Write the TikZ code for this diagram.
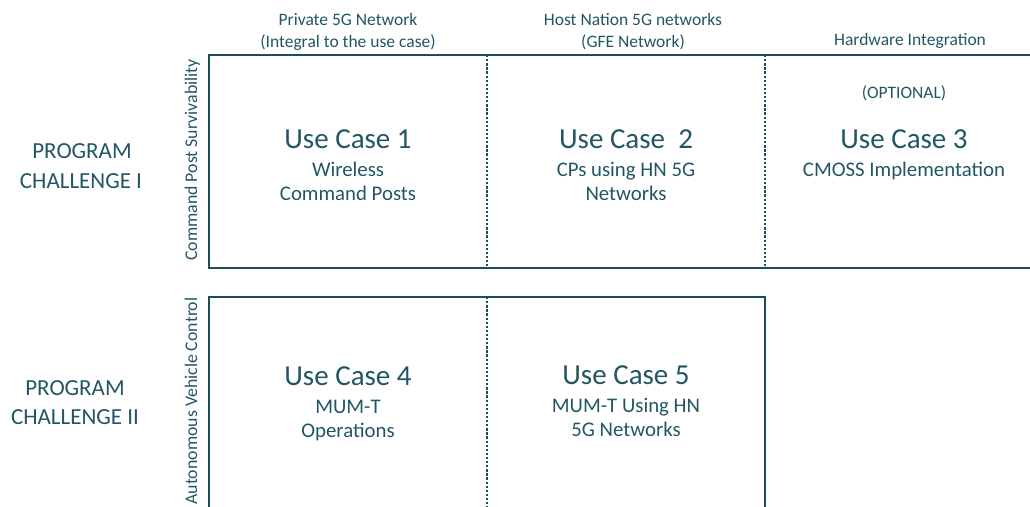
\documentclass[tikz,border=0pt]{standalone}
\usepackage{fontspec}
\setmainfont{Carlito}
\definecolor{lineteal}{HTML}{1B4D5A}
\definecolor{textteal}{HTML}{235663}
\begin{document}
\begin{tikzpicture}[x=1pt,y=-1pt,
  frame/.style={draw=lineteal,line width=2.8pt},
  divider/.style={draw=lineteal,line width=2.5pt,dash pattern=on 2.3pt off 1.8pt},
  small/.style={text=textteal,font=\fontsize{17.5}{21}\selectfont,anchor=base,inner sep=0pt},
  medium/.style={text=textteal,font=\fontsize{20.8}{25}\selectfont,anchor=base,inner sep=0pt},
  big/.style={text=textteal,font=\fontsize{29}{34}\selectfont,anchor=base,inner sep=0pt},
  prog/.style={text=textteal,font=\fontsize{23}{28}\selectfont,anchor=base,inner sep=0pt},
  side/.style={text=textteal,font=\fontsize{17.8}{21}\selectfont,anchor=base,rotate=90,inner sep=0pt}]
\useasboundingbox (0,0) rectangle (1030,506);
\begin{scope}
\clip (0,0) rectangle (1030,506);
% top grid
\coordinate (tr1) at (1040,55);
\coordinate (tl) at (209,55);
\coordinate (bl) at (209,268);
\coordinate (br1) at (1040,268);
\draw[frame] (tr1) -- (tl) -- (bl) -- (br1);
\coordinate (d1t) at (487,55);
\coordinate (d1b) at (487,268);
\coordinate (d2t) at (765,55);
\coordinate (d2b) at (765,268);
\draw[divider] (d1t) -- (d1b);
\draw[divider] (d2t) -- (d2b);
% bottom grid
\coordinate (b2l) at (209,520);
\coordinate (b2tl) at (209,297);
\coordinate (b2tr) at (765,297);
\coordinate (b2r) at (765,520);
\draw[frame] (b2l) -- (b2tl) -- (b2tr) -- (b2r);
\coordinate (d3t) at (487,297);
\coordinate (d3b) at (487,520);
\draw[divider] (d3t) -- (d3b);
\end{scope}
% column headers
\node[small] (h1a) at (348,25) {Private 5G Network};
\node[small] (h1b) at (348,47) {(Integral to the use case)};
\node[small] (h2a) at (633,25) {Host Nation 5G networks};
\node[small] (h2b) at (633,47) {(GFE Network)};
\node[small] (h3) at (910,45) {Hardware Integration};
% row labels
\node[prog] (p1a) at (82,158) {PROGRAM};
\node[prog] (p1b) at (81,188) {CHALLENGE I};
\node[prog] (p2a) at (75,395) {PROGRAM};
\node[prog] (p2b) at (75,424) {CHALLENGE II};
\node[side] (s1) at (197,160) {Command Post Survivability};
\node[side] (s2) at (197,401) {Autonomous Vehicle Control};
% use case 1
\node[big] (u1) at (348,148) {Use Case 1};
\node[medium] (u1a) at (348,176) {Wireless};
\node[medium] (u1b) at (348,200) {Command Posts};
% use case 2
\node[big] (u2) at (626,148) {Use Case\ \ 2};
\node[medium] (u2a) at (626,176) {CPs using HN 5G};
\node[medium] (u2b) at (626,200) {Networks};
% use case 3
\node[small] (u3o) at (904,98) {(OPTIONAL)};
\node[big] (u3) at (904,148) {Use Case 3};
\node[medium] (u3a) at (904,176) {CMOSS Implementation};
% use case 4
\node[big] (u4) at (348,385) {Use Case 4};
\node[medium] (u4a) at (348,413) {MUM-T};
\node[medium] (u4b) at (348,437) {Operations};
% use case 5
\node[big] (u5) at (626,384) {Use Case 5};
\node[medium] (u5a) at (626,412) {MUM-T Using HN};
\node[medium] (u5b) at (626,436) {5G Networks};
\end{tikzpicture}
\end{document}
